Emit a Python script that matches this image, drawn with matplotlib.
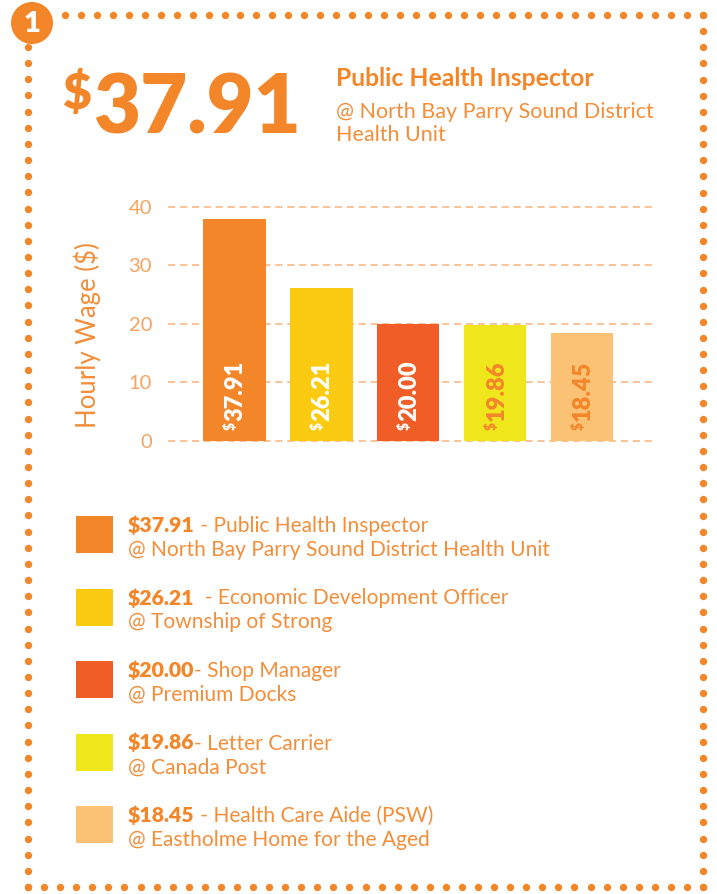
import matplotlib
matplotlib.use('Agg')
import matplotlib.pyplot as plt
import numpy as np
from matplotlib.patches import Circle, Rectangle

plt.rcParams['font.family'] = ['Lato', 'DejaVu Sans']

# ---- data ----
values = [37.91, 26.21, 20.00, 19.86, 18.45]
value_labels = ['37.91', '26.21', '20.00', '19.86', '18.45']
bar_colors = ['#F4862A', '#FBCB12', '#F15D26', '#EFE61C', '#FBC276']
label_colors = ['white', 'white', 'white', '#F4862A', '#F4862A']
legend_values = ['$37.91', '$26.21', '$20.00', '$19.86', '$18.45']
legend_titles = [' - Public Health Inspector', '  - Economic Development Officer',
                 '- Shop Manager', '- Letter Carrier', ' - Health Care Aide (PSW)']
legend_places = ['@ North Bay Parry Sound District Health Unit', '@ Township of Strong',
                 '@ Premium Docks', '@ Canada Post', '@ Eastholme Home for the Aged']
yticks = [0, 10, 20, 30, 40]
ylabel = 'Hourly Wage ($)'
headline_value = '37.91'
headline_title = 'Public Health Inspector'
headline_place = ['@ North Bay Parry Sound District', 'Health Unit']
badge = '1'

ORANGE = '#F4862A'
TEXT = '#F38E3A'
TICK = '#F6A261'
GRID = '#F9BE90'

fig = plt.figure(figsize=(7.17, 8.94), dpi=100)
canvas = fig.add_axes([0, 0, 1, 1])
canvas.set_xlim(0, 717)
canvas.set_ylim(894, 0)
canvas.axis('off')

# dotted frame
dot_s = 28
top_x = np.linspace(65, 703, 41)
canvas.scatter(top_x, np.full_like(top_x, 15), s=dot_s, color=ORANGE, lw=0)
left_y = np.linspace(47, 887, 53)
canvas.scatter(np.full_like(left_y, 28), left_y, s=dot_s, color=ORANGE, lw=0)
right_y = np.linspace(15, 887, 55)
canvas.scatter(np.full_like(right_y, 703), right_y, s=dot_s, color=ORANGE, lw=0)
bot_x = np.linspace(28, 703, 43)
canvas.scatter(bot_x, np.full_like(bot_x, 887), s=dot_s, color=ORANGE, lw=0)

# badge
canvas.add_patch(Circle((32, 23), 21, color=ORANGE, lw=0))
canvas.text(32, 24, badge, color='white', fontsize=21, fontweight='heavy',
            ha='center', va='center')

# headline
canvas.text(62, 71, '$', color=ORANGE, fontsize=36, fontweight='heavy',
            ha='left', va='top', parse_math=False)
canvas.text(93, 133, headline_value, color=ORANGE, fontsize=58.5, fontweight='heavy',
            ha='left', va='baseline')
canvas.text(336, 86, headline_title, color=ORANGE, fontsize=17.8, fontweight='bold',
            ha='left', va='baseline')
canvas.text(336, 118, headline_place[0], color=TEXT, fontsize=15.5,
            ha='left', va='baseline')
canvas.text(336, 141, headline_place[1], color=TEXT, fontsize=15.5,
            ha='left', va='baseline')

# y label
canvas.text(87, 335, ylabel, color=TEXT, fontsize=18.5, rotation=90,
            ha='center', va='center', parse_math=False)

# chart
px_per = 5.85
y_lo, y_hi = -1, 41
bottom_px = 441 + (0 - y_lo) * px_per
top_px = 441 - (y_hi - 0) * px_per
ax = fig.add_axes([168 / 717, 1 - bottom_px / 894, (653 - 168) / 717, (bottom_px - top_px) / 894])
ax.set_facecolor('none')
x = np.arange(len(values))
ax.bar(x, values, width=0.72, color=bar_colors, zorder=3)
ax.set_xlim(-0.765, len(values) - 1 + 0.82)
ax.set_ylim(y_lo, y_hi)
ax.set_yticks(yticks)
ax.set_xticks([])
ax.yaxis.grid(True, linestyle=(0, (4, 2.6)), color=GRID, linewidth=1.3, zorder=0)
ax.set_axisbelow(True)
for s in ax.spines.values():
    s.set_visible(False)
ax.tick_params(axis='y', length=0, pad=11.5, labelsize=14.5, labelcolor=TICK)

fs_big, fs_small = 17, 10
cap = 0.7165
for i, (lab, c) in enumerate(zip(value_labels, label_colors)):
    base_dx = cap * fs_big / 2
    ax.annotate('$', xy=(i, 1.9), xytext=(base_dx - cap * (fs_big - fs_small) - 0.5, 0),
                textcoords='offset points', rotation=90, rotation_mode='anchor',
                ha='left', va='baseline', fontsize=fs_small, fontweight='heavy', color=c,
                parse_math=False, zorder=5)
    ax.annotate(lab, xy=(i, 1.9), xytext=(base_dx, 6.3),
                textcoords='offset points', rotation=90, rotation_mode='anchor',
                ha='left', va='baseline', fontsize=fs_big, fontweight='heavy', color=c,
                zorder=5)

# legend
renderer = fig.canvas.get_renderer()
for i in range(len(values)):
    top = 516 + i * 72.5
    canvas.add_patch(Rectangle((76, top), 37, 37, color=bar_colors[i], lw=0))
    t = canvas.text(128, top + 16, legend_values[i], color=ORANGE, fontsize=15.3,
                    fontweight='heavy', ha='left', va='baseline', parse_math=False)
    bb = t.get_window_extent(renderer=renderer)
    canvas.text(bb.x1, top + 16, legend_titles[i], color=TEXT, fontsize=15.1,
                ha='left', va='baseline')
    canvas.text(128, top + 40, legend_places[i], color=TEXT, fontsize=15.1,
                ha='left', va='baseline')

fig.savefig('out.png', dpi=100)
